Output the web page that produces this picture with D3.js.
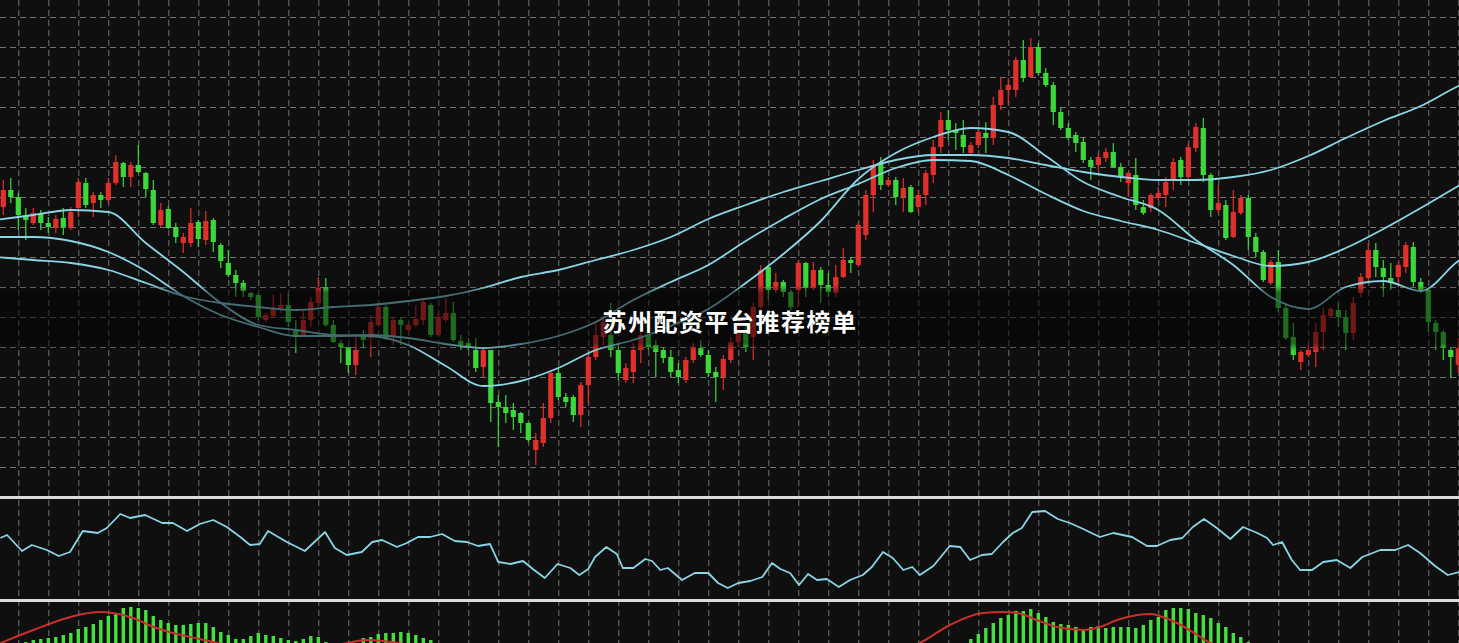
<!DOCTYPE html>
<html>
<head>
<meta charset="utf-8">
<script src="https://cdn.jsdelivr.net/npm/d3@7"></script>
<style>
  html, body { margin: 0; padding: 0; background: #0f0f0f; overflow: hidden; }
  svg { display: block; }
</style>
</head>
<body>
<svg id="chart"></svg>
<script>
// candles, one per bar (price units, 0 = bottom of main panel)
const candleOpen = [
  290,307,300,281,274,284,274,269,279,269, 289,314,294,302,297,314,334,320,332,324,
  307,272,288,270,254,254,275,257,277,252, 234,222,214,204,202,177,181,189,192,167,
  162,177,194,210,172,154,150,132,162,159, 172,190,160,177,167,172,177,192,162,177,
  184,156,154,147,130,147,95,90,87,84,     74,47,54,79,124,100,100,82,112,140,
  160,162,147,117,125,147,162,152,147,140, 127,117,137,149,142,125,120,137,155,167,
  160,190,230,207,215,205,207,234,209,227, 212,204,220,237,232,262,302,334,312,317,
  300,310,290,302,322,350,377,367,362,344, 352,364,359,392,407,407,437,420,450,424,
  412,385,369,362,355,337,332,339,345,330, 314,322,290,289,299,302,317,337,320,349,
  369,322,287,292,260,284,299,260,245,214, 235,189,160,135,142,145,165,181,187,180,
  164,204,219,247,229,219,220,230,250,215, 207,174,165,147,132
];
const candleHigh = [
  317,319,304,289,289,287,280,282,289,290, 319,319,305,305,319,342,335,335,352,325,
  317,294,291,274,264,289,277,286,279,254, 247,227,217,205,204,184,202,204,204,177,
  187,200,220,219,177,157,150,162,167,182, 194,192,180,180,175,192,197,194,184,199,
  195,162,159,159,149,147,102,102,94,85,   75,64,94,127,129,104,102,115,147,174,
  182,194,154,134,154,167,167,157,150,147, 134,140,154,157,147,130,142,160,174,172,
  194,232,232,224,217,207,237,235,235,230, 224,232,249,240,275,307,337,340,320,320,
  319,312,307,327,357,385,387,374,377,355, 370,375,400,420,419,440,457,459,454,429,
  415,389,374,365,360,340,344,349,354,334, 325,339,297,304,310,320,339,340,354,374,
  379,324,312,297,307,302,302,264,247,237, 247,194,174,147,154,174,189,190,194,187,
  200,224,254,254,237,234,235,255,255,219, 209,177,167,149,159
];
const candleLow = [
  282,294,267,257,272,267,264,264,262,267, 280,289,280,289,294,312,310,310,324,300,
  272,270,268,254,244,250,250,252,245,229, 220,200,200,197,177,175,180,184,170,144,
  160,170,190,170,154,134,124,122,149,140, 170,157,152,152,164,170,172,160,160,175,
  155,147,147,125,120,75,50,74,67,64,      55,32,50,74,97,90,75,70,94,137,
  152,140,117,114,114,134,147,120,134,120, 114,114,134,140,120,95,107,134,150,145,
  137,187,197,204,200,187,190,200,207,194, 200,200,219,224,230,257,285,307,310,292,
  285,284,285,292,314,344,357,347,344,342, 349,344,352,387,392,400,415,419,422,410,
  372,367,357,345,334,317,327,335,329,315, 300,287,282,285,297,290,307,312,317,345,
  315,280,284,257,259,282,247,240,215,212, 185,157,137,127,140,130,147,179,170,147,
  157,200,214,220,200,207,210,224,210,204, 165,147,137,119,124
];
const candleClose = [
  307,300,282,277,284,274,270,278,270,285, 315,292,302,297,314,335,320,332,325,308,
  274,287,269,260,260,274,258,276,255,236, 222,214,206,200,180,182,188,192,175,160,
  177,195,209,172,155,150,132,147,157,175, 190,159,177,172,172,178,195,162,180,184,
  157,152,149,129,147,94,90,84,80,74,      57,57,79,124,100,95,82,112,140,162,
  175,147,124,129,147,162,150,145,139,125, 120,137,150,142,124,120,138,155,167,150,
  190,227,207,215,205,190,234,209,227,212, 205,220,237,234,272,302,332,312,317,300,
  309,285,302,324,350,377,367,364,350,352, 365,359,392,407,412,437,419,450,424,412,
  385,369,359,354,337,330,340,345,330,320, 324,292,284,302,304,315,335,320,350,370,
  322,287,294,259,285,299,260,245,217,235, 189,159,142,145,147,165,182,188,180,164,
  194,220,247,230,220,214,232,252,215,207, 175,165,149,140,149
];

// moving averages, sampled every 5 bars
const maIndex = [-1,4,9,14,19,24,29,34,39,44,49,54,59,64,69,74,79,84,89,94,99,104,109,114,119,124,129,134,139,144,149,154,159,164,169,174,179,184,189,194,199];
const maFast = [277,282,287,285,254,225,194,172,167,162,161,152,131,111,116,129,147,157,171,188,214,243,276,318,344,360,369,365,341,315,300,287,257,232,200,188,210,216,206,236,257];
const maMid  = [260,260,256,245,226,201,182,170,161,161,162,159,153,149,153,161,175,197,215,232,256,278,298,313,329,337,336,322,303,286,276,267,254,241,231,235,249,268,289,311,332];
const maSlow = [240,237,234,227,214,201,194,190,187,190,192,196,201,209,220,227,237,247,260,278,292,305,316,327,337,342,342,339,332,325,320,317,317,320,327,341,359,376,391,411,427];

// oscillator (0-100)
const oscIndex = [-0.4,0.5,2.5,3.8,5.8,7.4,8.9,10.6,12.6,13.8,15.6,16.9,18.9,21.2,22.6,24.5,26.2,28,29.8,31.6,32.9,34.2,35.3,37.8,40.2,42.9,44.2,45.8,47.8,49.2,50.5,52.5,53.8,55.3,56.9,58.5,60.2,61.8,63.3,64.9,66,67.6,69.3,70.6,72.2,73.9,75.6,76.8,78,78.9,80.4,81.8,82.6,84,85.6,86.5,87.6,88.6,90.5,92.2,94,95.3,96.6,98,99.6,101.2,102.5,103.6,104.9,106.1,107.3,108.5,109.8,111.4,112.9,114.6,115.8,117.3,118.6,120,121.2,122.2,124,126.2,127.6,128.9,130.5,131.8,133.3,134.6,135.8,137.2,138.9,140.6,142.2,144,146.2,148,150.5,152.5,153.8,155.6,157.2,158.6,160.1,161.8,163.6,165.3,167.2,168.5,169.3,170.5,171.8,172.9,174.5,176,177.8,179.6,181.2,183.6,185.6,187.3,188.9,190.9,192.6,194.1];
const oscValue = [62,65,49,55,50,44,48,69,67,72,86,82,85,77,77,69,76,80,73,63,55,56,69,58,49,68,52,45,48,58,60,53,57,63,63,66,59,58,54,56,38,36,39,31,22,36,32,25,31,43,53,46,32,32,41,39,30,32,20,27,27,17,12,17,19,23,37,31,27,15,26,20,21,13,20,25,33,48,42,30,33,25,34,54,53,40,45,46,58,67,72,88,89,81,77,71,63,67,63,54,54,60,62,73,81,72,61,73,67,62,55,58,40,30,30,38,40,32,43,50,50,55,47,34,25,28];

// macd histogram, one per bar, and its signal line
const macdHist = [
  12,14,16,18,
  20,21,22,23,25,27,31,33,36,40,44,47,52,53,52,50,44,40,37,35,35,36,37,37,33,28,25,21,21,24,27,25,24,22,20,19,21,24,23,18,
  14,12,13,16,
  22,23,26,27,27,28,27,25,22,20,
  14,11,8,5,2,-1,-4,-7,-10,-12,-14,-16,-18,-19,-20,-20,-19,-18,-16,-14,-12,-10,-8,-6,-5,-4,-4,-5,-6,-6,
  -5,-4,-3,-2,-2,-3,-4,-5,-5,-4,-3,-2,-1,0,0,-1,-2,-2,-1,0,1,2,2,1,0,-1,0,1,2,3,4,4,3,2,3,4,6,8,11,14,
  17,21,26,32,37,42,45,49,49,51,47,43,38,36,35,33,30,33,34,32,33,33,33,32,35,40,43,50,52,52,51,47,45,42,37,33,27,23,18,
  14,10,6,3,0,-3,-6,-9,-11,-12,-12,-11,-10,-9,-8,-7,-6,-6,-6,-7,-8,-10,-12,-14,-16,-18,-20,-21
];
const signalIndex = [-1,4,8.5,10.6,12.9,14.6,17.3,20,22.6,26.2,28.5,32,36,40,43,45.8,48.5,50.6,54.2,58,65,80,95,110,118,122.2,126.2,130.6,133.3,135.2,137.8,140.5,144,146.2,148.5,151.2,152.9,154.6,156.5,159.2,160.9,165,175,195];
const signalValue = [15,30,42,46,48,47,42,33,27,21,17,12,9,10,13,17,20,19,15,10,0,-12,-8,-4,6,17,35,47,48,47,40,33,30,33,40,45,46,43,37,25,17,8,-3,-10];

const title = '苏州配资平台推荐榜单';

const W = 1459, H = 643;
const UP = '#e0302c', DOWN = '#3cd83a', LINE = '#8ad5e5';

const svg = d3.select('#chart').attr('width', W).attr('height', H);

svg.append('rect').attr('width', W).attr('height', H).attr('fill', '#0f0f0f');

const x      = d3.scaleLinear().domain([0, 194]).range([3.3, 1458.3]);
const yPrice = d3.scaleLinear().domain([0, 497]).range([497, 0]);
const yOsc   = d3.scaleLinear().domain([0, 100]).range([600, 500]);
const yMacd  = d3.scaleLinear().domain([0, 60]).range([660, 600]);

// grid
const gridX = svg.append('g')
  .call(d3.axisBottom(x).tickValues(d3.range(2, 195, 4)).tickSize(H).tickFormat(''));
gridX.select('.domain').remove();
gridX.selectAll('line')
  .attr('stroke', '#8c8c8c')
  .attr('stroke-opacity', 0.8)
  .attr('stroke-dasharray', '6,4');

const gridY = svg.append('g')
  .call(d3.axisRight(yPrice).tickValues(d3.range(30, 481, 30)).tickSize(W).tickFormat(''));
gridY.select('.domain').remove();
gridY.selectAll('line')
  .attr('stroke', '#8c8c8c')
  .attr('stroke-opacity', 0.8)
  .attr('stroke-dasharray', '6,4');

// candles
const candles = candleOpen.map((o, i) => ({
  i, o, h: candleHigh[i], l: candleLow[i], c: candleClose[i]
}));

const candleG = svg.append('g');
const cg = candleG.selectAll('g').data(candles).enter().append('g');

cg.append('line')
  .attr('x1', d => x(d.i))
  .attr('x2', d => x(d.i))
  .attr('y1', d => yPrice(d.h))
  .attr('y2', d => yPrice(d.l))
  .attr('stroke', d => d.c >= d.o ? UP : DOWN)
  .attr('stroke-width', 1.2);

cg.append('rect')
  .attr('x', d => x(d.i) - 2.6)
  .attr('width', 5.2)
  .attr('y', d => yPrice(Math.max(d.o, d.c)))
  .attr('height', d => Math.max(1.5, Math.abs(yPrice(d.o) - yPrice(d.c))))
  .attr('fill', d => d.c >= d.o ? UP : DOWN);

// moving averages
const maLine = d3.line()
  .x((d, k) => x(maIndex[k]))
  .y(d => yPrice(d))
  .curve(d3.curveMonotoneX);

[maSlow, maMid, maFast].forEach(series => {
  svg.append('path')
    .attr('d', maLine(series))
    .attr('fill', 'none')
    .attr('stroke', LINE)
    .attr('stroke-width', 1.8);
});

// dark band behind the title
const defs = svg.append('defs');
const grad = defs.append('linearGradient')
  .attr('id', 'band')
  .attr('x1', 0).attr('x2', 0).attr('y1', 0).attr('y2', 1);
grad.append('stop').attr('offset', '0%').attr('stop-color', '#000').attr('stop-opacity', 0);
grad.append('stop').attr('offset', '12%').attr('stop-color', '#000').attr('stop-opacity', 0.5);
grad.append('stop').attr('offset', '88%').attr('stop-color', '#000').attr('stop-opacity', 0.5);
grad.append('stop').attr('offset', '100%').attr('stop-color', '#000').attr('stop-opacity', 0);

svg.append('rect')
  .attr('x', 0).attr('y', 285)
  .attr('width', W).attr('height', 66)
  .attr('fill', 'url(#band)');

svg.append('text')
  .attr('x', 730)
  .attr('y', 331)
  .attr('text-anchor', 'middle')
  .attr('fill', '#ffffff')
  .attr('font-family', '"Noto Sans CJK SC", "Noto Sans", sans-serif')
  .attr('font-weight', 'bold')
  .attr('font-size', 24)
  .attr('letter-spacing', 1.5)
  .style('paint-order', 'stroke')
  .attr('stroke', 'rgba(0,0,0,0.35)')
  .attr('stroke-width', 2)
  .text(title);

// oscillator
const oscLine = d3.line()
  .x((d, k) => x(oscIndex[k]))
  .y(d => yOsc(d));

svg.append('path')
  .attr('d', oscLine(oscValue))
  .attr('fill', 'none')
  .attr('stroke', LINE)
  .attr('stroke-width', 1.8)
  .attr('stroke-linejoin', 'round');

// macd panel
defs.append('clipPath').attr('id', 'macdClip')
  .append('rect').attr('x', 0).attr('y', 602).attr('width', W).attr('height', 41);

const macdG = svg.append('g').attr('clip-path', 'url(#macdClip)');

macdG.selectAll('rect')
  .data(macdHist)
  .enter()
  .append('rect')
  .attr('x', (d, i) => x(i) - 1.7)
  .attr('width', 3.4)
  .attr('y', d => yMacd(Math.max(d, 0)))
  .attr('height', d => Math.abs(yMacd(d) - yMacd(0)))
  .attr('fill', '#44e03f');

const sigLine = d3.line()
  .x((d, k) => x(signalIndex[k]))
  .y(d => yMacd(d))
  .curve(d3.curveMonotoneX);

macdG.append('path')
  .attr('d', sigLine(signalValue))
  .attr('fill', 'none')
  .attr('stroke', '#c8302a')
  .attr('stroke-width', 2);

// panel separators
svg.selectAll('line.sep')
  .data([497.5, 600.5])
  .enter()
  .append('line')
  .attr('class', 'sep')
  .attr('x1', 0).attr('x2', W)
  .attr('y1', d => d).attr('y2', d => d)
  .attr('stroke', '#dcdcdc')
  .attr('stroke-width', 3);
</script>
</body>
</html>
